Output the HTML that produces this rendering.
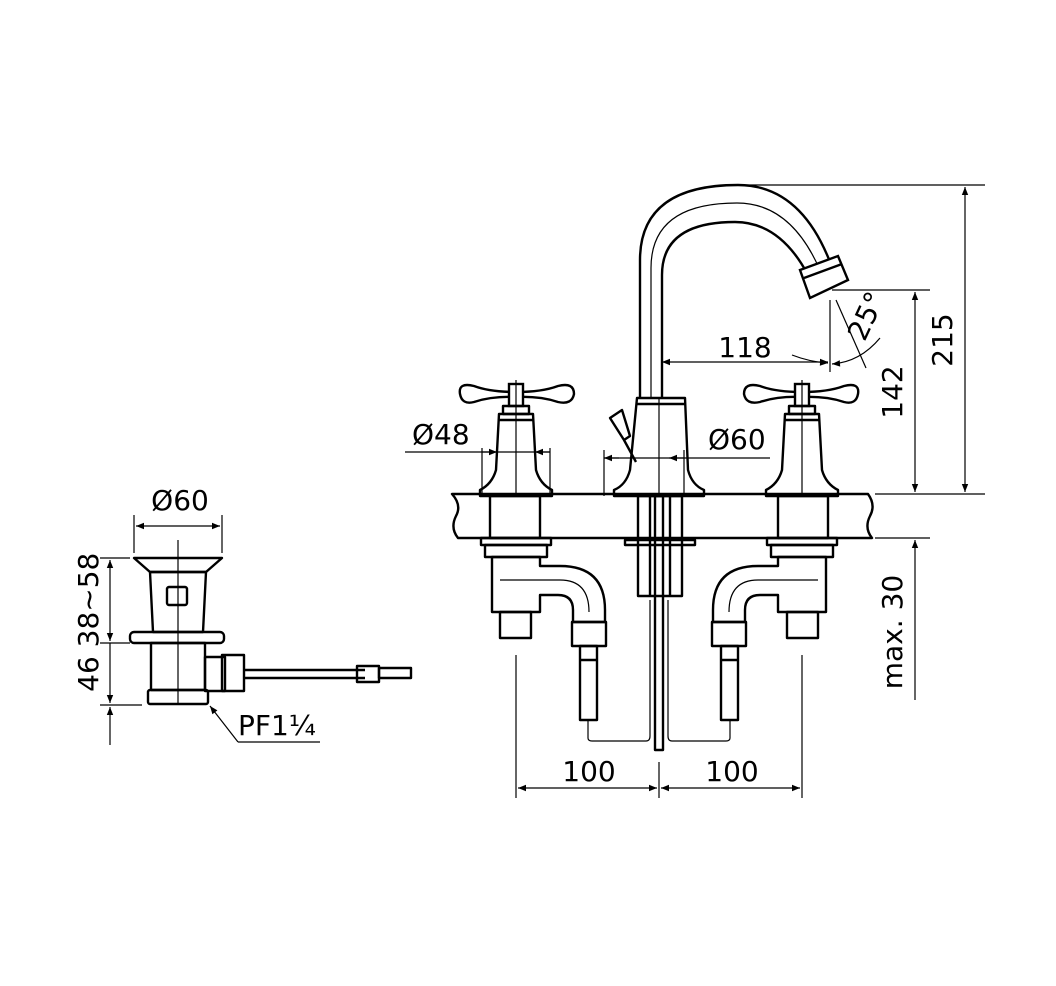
<!DOCTYPE html>
<html><head><meta charset="utf-8"><style>
html,body{margin:0;padding:0;background:#fff}
svg{display:block}
text{font-family:"DejaVu Sans","Liberation Sans",sans-serif;font-size:28px;fill:#000}
.o{fill:none;stroke:#000;stroke-width:2.4;stroke-linejoin:round}
.t{fill:none;stroke:#000;stroke-width:1.2}
.w{fill:#fff;stroke:#000;stroke-width:2.4}
</style></head><body>
<svg width="1056" height="986" viewBox="0 0 1056 986" xmlns="http://www.w3.org/2000/svg">
<defs>
<marker id="a" viewBox="0 0 10 10" refX="10" refY="5" markerWidth="12" markerHeight="8" orient="auto-start-reverse" markerUnits="userSpaceOnUse"><path d="M0,1 L10,5 L0,9 Z" fill="#000"/></marker>
</defs>

<!-- counter slab -->
<path class="o" d="M458,494 L868,494 Q876,505 870,516 Q864,528 872,538 L458,538 Q450,528 456,516 Q462,505 452,494 Z" fill="none"/>
<line class="t" x1="875" y1="494" x2="985" y2="494"/>
<line class="t" x1="875" y1="538" x2="930" y2="538"/>

<!-- spout -->
<path class="o" d="M640,398 L640,260 Q640,185 738,185 Q800,185 830,262"/>
<path class="o" d="M662,398 L662,275 Q662,222 735,222 Q780,222 808,275"/>
<path class="t" d="M651,398 L651,268 Q651,203 737,203 Q790,203 819,268"/>
<path class="w" d="M800,270 L838,256 L848,280 L810,298 Z"/>
<line class="o" x1="804" y1="278" x2="842" y2="264" stroke-width="4"/>
<!-- spout base -->
<path class="o" d="M637,398 L685,398 L688,470 Q692,485 704,490 L704,496 L614,496 L614,490 Q626,485 630,470 Z"/>
<line class="o" x1="636" y1="404" x2="686" y2="404"/>
<line class="t" x1="659" y1="398" x2="659" y2="496"/>
<!-- popup lever -->
<path class="o" d="M610,418 L622,410 L630,436 L624,440 Z"/>
<line class="o" x1="624" y1="440" x2="636" y2="462"/>

<!-- left handle -->
<g id="h">
<path class="o" d="M516,392 Q490,392 474,386 Q458,382 460,394 Q462,405 474,402 Q492,396 516,397 Q540,396 558,402 Q572,405 574,394 Q574,382 558,386 Q542,392 516,392 Z"/>
<rect class="w" x="509" y="384" width="14" height="22"/>
<rect class="o" x="503" y="406" width="26" height="8"/>
<path class="o" d="M499,414 L533,414 L536,470 Q540,484 552,490 L552,496 L480,496 L480,490 Q492,484 496,470 Z"/>
<line class="o" x1="498" y1="420" x2="534" y2="420" stroke-width="3"/>
<line class="t" x1="516" y1="380" x2="516" y2="496"/>
<!-- below counter -->
<rect class="o" x="490" y="496" width="50" height="42"/>
<rect class="o" x="481" y="538" width="70" height="7"/>
<rect class="o" x="485" y="545" width="62" height="12"/>
<path class="o" d="M492,557 L540,557 L540,566 L560,566 Q605,566 605,610 L605,622 L573,622 L573,610 Q573,595 558,595 L540,595 L540,612 L492,612 Z"/>
<path class="t" d="M500,580 L560,580 Q589,580 589,612"/>
<rect class="o" x="500" y="612" width="31" height="26"/>
<rect class="o" x="572" y="622" width="34" height="24"/>
<rect class="o" x="580" y="646" width="17" height="74"/>
<line class="o" x1="580" y1="660" x2="597" y2="660"/>
<path class="t" d="M588,720 L588,738 Q588,741 592,741 L646,741 Q650,741 650,736 L650,600"/>
</g>
<use href="#h" transform="translate(1318,0) scale(-1,1)"/>
<!-- right handle shifted -->
<!-- the mirror places handle at 802 -->

<!-- center under counter -->
<rect class="o" x="638" y="496" width="44" height="100"/>
<rect class="o" x="625" y="540" width="70" height="5"/>
<line class="o" x1="650" y1="496" x2="650" y2="596"/>
<line class="o" x1="670" y1="496" x2="670" y2="596"/>
<rect class="o" x="655" y="496" width="8" height="254"/>

<!-- dims -->
<line class="t" x1="740" y1="185" x2="985" y2="185"/>
<line class="t" x1="965" y1="187" x2="965" y2="492" marker-start="url(#a)" marker-end="url(#a)"/>
<text transform="translate(952,340) rotate(-90)" text-anchor="middle">215</text>
<line class="t" x1="832" y1="290" x2="930" y2="290"/>
<line class="t" x1="915" y1="292" x2="915" y2="492" marker-start="url(#a)" marker-end="url(#a)"/>
<text transform="translate(902,392) rotate(-90)" text-anchor="middle">142</text>
<line class="t" x1="915" y1="540" x2="915" y2="700" marker-start="url(#a)"/>
<text transform="translate(902,632) rotate(-90)" text-anchor="middle">max. 30</text>
<line class="t" x1="830" y1="300" x2="830" y2="372"/>
<line class="t" x1="662" y1="362" x2="828" y2="362" marker-start="url(#a)" marker-end="url(#a)"/>
<path class="t" d="M792,355 Q810,362 828,363" marker-end="url(#a)"/>
<text x="745" y="357" text-anchor="middle">118</text>
<line class="t" x1="836" y1="300" x2="866" y2="368"/>
<path class="t" d="M832,364 Q860,362 880,338" marker-start="url(#a)"/>
<text transform="translate(875,320) rotate(-65)" text-anchor="middle">25°</text>
<line class="t" x1="482" y1="448" x2="482" y2="496"/>
<line class="t" x1="550" y1="448" x2="550" y2="496"/>
<line class="t" x1="405" y1="452" x2="550" y2="452"/>
<line class="t" x1="482" y1="452" x2="497" y2="452" marker-end="url(#a)"/>
<line class="t" x1="550" y1="452" x2="535" y2="452" marker-end="url(#a)"/>
<text x="412" y="444">Ø48</text>
<line class="t" x1="604" y1="450" x2="604" y2="496"/>
<line class="t" x1="684" y1="450" x2="684" y2="496"/>
<line class="t" x1="604" y1="458" x2="770" y2="458"/>
<line class="t" x1="604" y1="458" x2="619" y2="458" marker-start="url(#a)"/>
<line class="t" x1="684" y1="458" x2="669" y2="458" marker-end="url(#a)"/>
<text x="708" y="449">Ø60</text>
<line class="t" x1="516" y1="655" x2="516" y2="798"/>
<line class="t" x1="802" y1="655" x2="802" y2="798"/>
<line class="t" x1="659" y1="762" x2="659" y2="798"/>
<line class="t" x1="518" y1="788" x2="657" y2="788" marker-start="url(#a)" marker-end="url(#a)"/>
<line class="t" x1="661" y1="788" x2="800" y2="788" marker-start="url(#a)" marker-end="url(#a)"/>
<text x="589" y="781" text-anchor="middle">100</text>
<text x="732" y="781" text-anchor="middle">100</text>

<!-- drain -->
<line class="t" x1="134" y1="515" x2="134" y2="553"/>
<line class="t" x1="222" y1="515" x2="222" y2="553"/>
<line class="t" x1="136" y1="526" x2="220" y2="526" marker-start="url(#a)" marker-end="url(#a)"/>
<text x="180" y="510" text-anchor="middle">Ø60</text>
<line class="t" x1="178" y1="540" x2="178" y2="705"/>
<path class="o" d="M134,558 L222,558 L206,572 L150,572 Z"/>
<path class="o" d="M150,572 L206,572 L203,632 L153,632 Z"/>
<rect class="o" x="167" y="587" width="20" height="18" rx="2"/>
<rect class="o" x="130" y="632" width="94" height="11" rx="4"/>
<rect class="o" x="151" y="643" width="54" height="47"/>
<rect class="o" x="148" y="690" width="60" height="14" rx="2"/>
<rect class="o" x="205" y="657" width="20" height="34"/>
<rect class="o" x="222" y="655" width="22" height="36" stroke-width="3"/>
<line class="o" x1="244" y1="670" x2="365" y2="670"/>
<line class="o" x1="244" y1="678" x2="365" y2="678"/>
<rect class="o" x="357" y="666" width="22" height="16"/>
<rect class="o" x="379" y="668" width="32" height="10"/>
<line class="t" x1="100" y1="558" x2="130" y2="558"/>
<line class="t" x1="100" y1="643" x2="130" y2="643"/>
<line class="t" x1="100" y1="705" x2="142" y2="705"/>
<line class="t" x1="110" y1="560" x2="110" y2="641" marker-start="url(#a)" marker-end="url(#a)"/>
<line class="t" x1="110" y1="643" x2="110" y2="703" marker-end="url(#a)"/>
<line class="t" x1="110" y1="707" x2="110" y2="745" marker-start="url(#a)"/>
<text transform="translate(98,600) rotate(-90)" text-anchor="middle">38~58</text>
<text transform="translate(98,674) rotate(-90)" text-anchor="middle">46</text>
<line class="t" x1="210" y1="706" x2="238" y2="742" marker-start="url(#a)"/>
<line class="t" x1="238" y1="742" x2="320" y2="742"/>
<text x="238" y="735">PF1¼</text>
</svg>
</body></html>
